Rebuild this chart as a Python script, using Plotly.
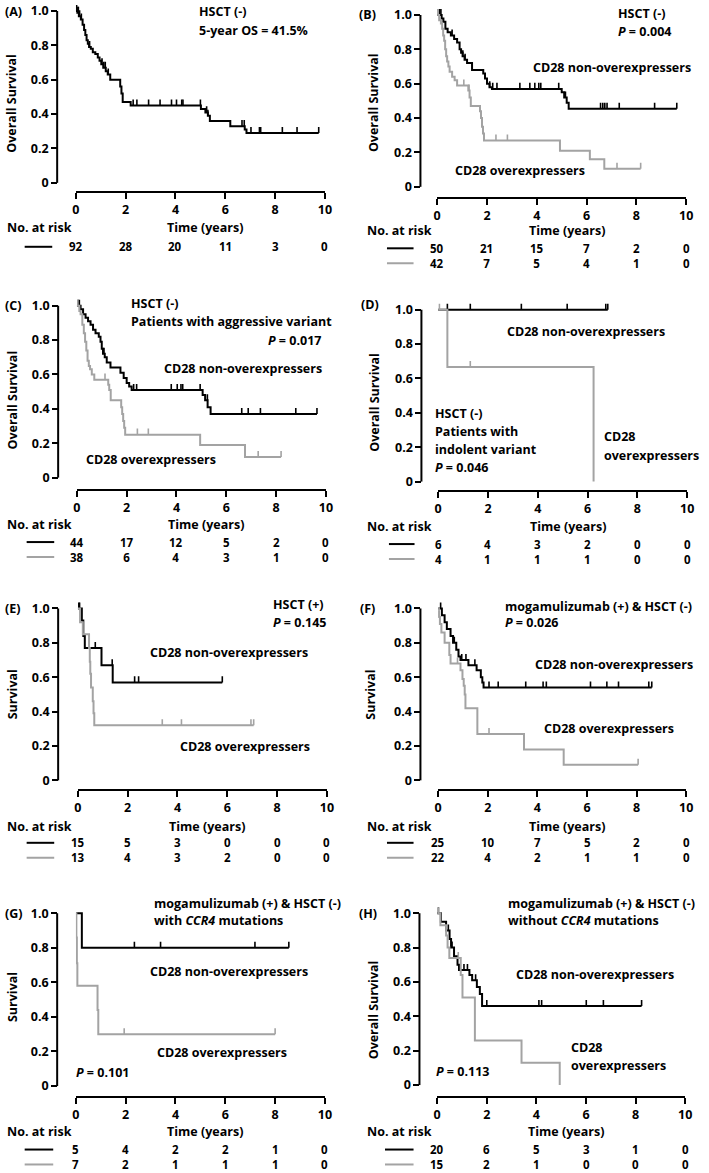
import plotly.graph_objects as go

W, H = 709, 1173

TIME_TICKS = [0, 2, 4, 6, 8, 10]
TIME_LABELS = ["0", "2", "4", "6", "8", "10"]
SURV_TICKS = [0, 0.2, 0.4, 0.6, 0.8, 1.0]
SURV_LABELS = ["0", "0.2", "0.4", "0.6", "0.8", "1.0"]

# ---------------- (A) HSCT (-), all patients ----------------
A_t = [0.06, 0.12, 0.2, 0.27, 0.33, 0.38, 0.43, 0.48, 0.53, 0.6, 0.68, 0.78, 0.88, 0.95, 1.02, 1.1,
       1.2, 1.28, 1.38, 1.78, 1.83, 1.88, 2.2, 5.02, 5.2, 5.3, 5.38, 6.2, 6.78, 6.85]
A_s = [0.99, 0.97, 0.95, 0.92, 0.89, 0.86, 0.83, 0.81, 0.79, 0.78, 0.76, 0.75, 0.73, 0.71, 0.69, 0.67,
       0.65, 0.63, 0.60, 0.56, 0.52, 0.47, 0.45, 0.43, 0.41, 0.39, 0.36, 0.33, 0.31, 0.29]
A_end = 9.75
A_cens = [0.03, 0.08, 0.1, 0.15, 0.22, 0.55, 1.05, 1.12, 1.18, 1.3, 2.3, 2.45, 2.92, 3.38, 3.84, 4.04,
          4.25, 4.3, 5.0, 5.25, 5.3, 6.67, 6.76, 7.03, 7.37, 7.42, 8.29, 8.88, 9.75]
A_risk = [92, 28, 20, 11, 3, 0]

# ---------------- (B) HSCT (-) ----------------
B_non_t = [0.18, 0.25, 0.33, 0.42, 0.55, 0.68, 0.8, 0.9, 0.96, 1.02, 1.1, 1.2, 1.4, 1.85, 1.92, 2.0,
           2.1, 2.2, 5.0, 5.1, 5.2, 5.28]
B_non_s = [0.98, 0.96, 0.92, 0.90, 0.88, 0.86, 0.84, 0.80, 0.78, 0.76, 0.74, 0.72, 0.68, 0.66, 0.63, 0.60,
           0.58, 0.57, 0.55, 0.52, 0.49, 0.455]
B_non_end = 9.62
B_non_cens = [0.05, 0.1, 0.15, 0.6, 1.03, 1.12, 2.11, 2.23, 2.4, 3.32, 3.72, 3.92, 4.08, 4.16, 4.88, 5.15,
              6.56, 6.65, 6.73, 6.82, 7.31, 8.73, 9.62]
B_ovr_t = [0.08, 0.15, 0.2, 0.24, 0.28, 0.32, 0.36, 0.4, 0.45, 0.5, 0.6, 0.7, 0.8, 1.25, 1.3, 1.35,
           1.72, 1.76, 1.8, 1.84, 1.88, 4.93, 6.13, 6.71]
B_ovr_s = [0.97, 0.95, 0.92, 0.88, 0.85, 0.80, 0.76, 0.73, 0.70, 0.67, 0.64, 0.62, 0.59, 0.56, 0.52, 0.47,
           0.44, 0.40, 0.35, 0.31, 0.27, 0.21, 0.16, 0.105]
B_ovr_end = 8.17
B_ovr_cens = [0.04, 1.07, 1.28, 2.36, 2.82, 7.22, 8.17]
B_non_risk = [50, 21, 15, 7, 2, 0]
B_ovr_risk = [42, 7, 5, 4, 1, 0]

# ---------------- (C) aggressive variant ----------------
C_non_t = [0.15, 0.25, 0.35, 0.45, 0.55, 0.65, 0.75, 0.88, 0.95, 1.0, 1.05, 1.12, 1.2, 1.35, 1.75, 1.88,
           2.0, 2.1, 2.2, 5.05, 5.15, 5.25, 5.37]
C_non_s = [0.98, 0.95, 0.93, 0.91, 0.89, 0.86, 0.84, 0.82, 0.79, 0.75, 0.72, 0.70, 0.67, 0.64, 0.61, 0.58,
           0.55, 0.53, 0.51, 0.48, 0.45, 0.41, 0.37]
C_non_end = 9.64
C_non_cens = [0.05, 0.1, 1.09, 2.28, 2.4, 3.79, 4.03, 4.18, 4.25, 4.95, 5.24, 6.62, 6.88, 7.37, 8.79, 9.64]
C_ovr_t = [0.1, 0.15, 0.22, 0.28, 0.33, 0.38, 0.43, 0.48, 0.53, 0.6, 0.7, 1.26, 1.3, 1.36, 1.78, 1.82,
           1.86, 1.9, 1.94, 4.95, 6.75]
C_ovr_s = [0.97, 0.95, 0.89, 0.84, 0.79, 0.74, 0.68, 0.65, 0.63, 0.60, 0.57, 0.54, 0.51, 0.45, 0.41, 0.37,
           0.33, 0.29, 0.25, 0.19, 0.12]
C_ovr_end = 8.2
C_ovr_cens = [0.04, 1.13, 2.43, 2.87, 7.28, 8.2]
C_non_risk = [44, 17, 12, 5, 2, 0]
C_ovr_risk = [38, 6, 4, 3, 1, 0]

# ---------------- (D) indolent variant ----------------
D_non_t = []
D_non_s = []
D_non_end = 6.81
D_non_cens = [0.37, 1.29, 3.34, 5.18, 6.73, 6.81]
D_ovr_t = [0.37, 6.24]
D_ovr_s = [0.667, 0.0]
D_ovr_end = 6.24
D_ovr_cens = [0.05, 1.29]
D_non_risk = [6, 4, 3, 2, 0, 0]
D_ovr_risk = [4, 1, 1, 1, 0, 0]

# ---------------- (E) HSCT (+) ----------------
E_non_t = [0.16, 0.22, 0.28, 0.95, 1.4]
E_non_s = [0.93, 0.84, 0.77, 0.67, 0.57]
E_non_end = 5.8
E_non_cens = [0.04, 0.07, 0.7, 1.38, 2.28, 2.44, 5.8]
E_ovr_t = [0.09, 0.2, 0.45, 0.48, 0.5, 0.53, 0.6, 0.63, 0.66]
E_ovr_s = [0.92, 0.85, 0.77, 0.69, 0.62, 0.54, 0.46, 0.39, 0.32]
E_ovr_end = 7.06
E_ovr_cens = [3.39, 4.16, 6.95, 7.06]
E_non_risk = [15, 5, 3, 0, 0, 0]
E_ovr_risk = [13, 4, 3, 2, 0, 0]

# ---------------- (F) mogamulizumab (+) & HSCT (-) ----------------
F_non_t = [0.15, 0.26, 0.35, 0.5, 0.6, 0.73, 0.82, 0.9, 1.22, 1.55, 1.72, 1.78, 1.83]
F_non_s = [0.96, 0.92, 0.88, 0.84, 0.80, 0.76, 0.72, 0.70, 0.67, 0.64, 0.60, 0.57, 0.54]
F_non_end = 8.61
F_non_cens = [0.1, 0.65, 0.95, 1.12, 1.48, 2.05, 2.42, 3.53, 4.23, 4.36, 6.14, 6.8, 7.27, 8.49, 8.61]
F_ovr_t = [0.03, 0.07, 0.13, 0.26, 0.45, 0.5, 0.9, 0.98, 1.03, 1.07, 1.1, 1.58, 3.46, 5.06]
F_ovr_s = [0.95, 0.91, 0.86, 0.80, 0.73, 0.68, 0.64, 0.59, 0.55, 0.50, 0.42, 0.27, 0.18, 0.09]
F_ovr_end = 8.06
F_ovr_cens = [0.04, 0.78, 2.05, 8.06]
F_non_risk = [25, 10, 7, 5, 2, 0]
F_ovr_risk = [22, 4, 2, 1, 1, 0]

# ---------------- (G) with CCR4 mutations ----------------
G_non_t = [0.24]
G_non_s = [0.8]
G_non_end = 8.55
G_non_cens = [2.35, 3.4, 7.19, 8.55]
G_ovr_t = [0.02, 0.04, 0.06, 0.87, 0.9]
G_ovr_s = [0.86, 0.71, 0.58, 0.44, 0.30]
G_ovr_end = 8.0
G_ovr_cens = [1.94, 8.0]
G_non_risk = [5, 4, 2, 2, 1, 0]
G_ovr_risk = [7, 2, 1, 1, 1, 0]

# ---------------- (H) without CCR4 mutations ----------------
H_non_t = [0.15, 0.36, 0.5, 0.56, 0.68, 0.82, 0.88, 1.3, 1.41, 1.6, 1.72, 1.81]
H_non_s = [0.95, 0.90, 0.85, 0.80, 0.75, 0.70, 0.67, 0.64, 0.61, 0.57, 0.53, 0.46]
H_non_end = 8.24
H_non_cens = [0.05, 0.45, 0.6, 1.08, 1.22, 1.55, 2.0, 4.1, 4.21, 6.01, 6.7, 8.24]
H_ovr_t = [0.13, 0.36, 0.42, 0.49, 0.95, 1.02, 1.52, 3.4, 4.94]
H_ovr_s = [0.93, 0.87, 0.80, 0.74, 0.64, 0.51, 0.26, 0.13, 0.0]
H_ovr_end = 4.94
H_ovr_cens = [0.05, 0.85]
H_non_risk = [20, 6, 5, 3, 1, 0]
H_ovr_risk = [15, 2, 1, 0, 0, 0]

# ---------------- styling / layout (pixel geometry) ----------------
BLACK = "#000000"
GRAY = "#a3a3a3"
FONT = "Open Sans"
FS = 12.5
RISK_FS = 11.5
LINE_GAP = RISK_FS * 1.3  # plotly multi-line spacing
YMIN, YMAX = -0.04, 1.06
TICK_H = 0.035

PANELS = [
    dict(label="(A)", ytitle="Overall Survival",
         curves=[(A_t, A_s, A_end, A_cens, BLACK)], risk=[(A_risk, BLACK)],
         X0=73, X10=326, XAX=192, Y0=183, Y1=11, YAX=54, TIME=228, RISKMID=247, LEG=(21, 49),
         LAB=(0, 12), YT=(8, 103),
         texts=[("HSCT (-)", 197, 12, "left"), ("5-year OS = 41.5%", 197, 31, "left")]),
    dict(label="(B)", ytitle="Overall Survival",
         curves=[(B_non_t, B_non_s, B_non_end, B_non_cens, BLACK),
                 (B_ovr_t, B_ovr_s, B_ovr_end, B_ovr_cens, GRAY)],
         risk=[(B_non_risk, BLACK), (B_ovr_risk, GRAY)],
         X0=440, X10=693, XAX=198, Y0=187, Y1=15, YAX=423, TIME=231, RISKMID=256, LEG=(389, 416),
         LAB=(360, 15), YT=(376, 103),
         texts=[("HSCT (-)", 623, 14, "left"), ("<i>P</i> = 0.004", 623, 32, "left"),
                ("CD28 non-overexpressers", 536, 68, "left"), ("CD28 overexpressers", 457, 171, "left")]),
    dict(label="(C)", ytitle="Overall Survival",
         curves=[(C_non_t, C_non_s, C_non_end, C_non_cens, BLACK),
                 (C_ovr_t, C_ovr_s, C_ovr_end, C_ovr_cens, GRAY)],
         risk=[(C_non_risk, BLACK), (C_ovr_risk, GRAY)],
         X0=74, X10=327, XAX=490, Y0=478, Y1=306, YAX=55, TIME=525, RISKMID=550, LEG=(23, 51),
         LAB=(0, 306), YT=(9, 400),
         texts=[("HSCT (-)", 128, 304, "left"), ("Patients with aggressive variant", 128, 322, "left"),
                ("<i>P</i> = 0.017", 267, 341, "left"),
                ("CD28 non-overexpressers", 162, 369, "left"), ("CD28 overexpressers", 82, 460, "left")]),
    dict(label="(D)", ytitle="Overall Survival",
         curves=[(D_non_t, D_non_s, D_non_end, D_non_cens, BLACK),
                 (D_ovr_t, D_ovr_s, D_ovr_end, D_ovr_cens, GRAY)],
         risk=[(D_non_risk, BLACK), (D_ovr_risk, GRAY)],
         X0=441, X10=694, XAX=491, Y0=482, Y1=310, YAX=424, TIME=527, RISKMID=552, LEG=(391, 417),
         LAB=(362, 305), YT=(377, 403),
         texts=[("CD28 non-overexpressers", 510, 332, "left"), ("HSCT (-)", 437, 414, "left"),
                ("Patients with", 437, 432, "left"), ("indolent variant", 437, 450, "left"),
                ("<i>P</i> = 0.046", 437, 468, "left"), ("CD28", 608, 437, "left"),
                ("overexpressers", 608, 456, "left")]),
    dict(label="(E)", ytitle="Survival",
         curves=[(E_non_t, E_non_s, E_non_end, E_non_cens, BLACK),
                 (E_ovr_t, E_ovr_s, E_ovr_end, E_ovr_cens, GRAY)],
         risk=[(E_non_risk, BLACK), (E_ovr_risk, GRAY)],
         X0=75, X10=328, XAX=791, Y0=781, Y1=609, YAX=55, TIME=827, RISKMID=851, LEG=(23, 51),
         LAB=(0, 609), YT=(9, 695),
         texts=[("HSCT (+)", 272, 605, "left"), ("<i>P</i> = 0.145", 272, 623, "left"),
                ("CD28 non-overexpressers", 147, 653, "left"), ("CD28 overexpressers", 178, 747, "left")]),
    dict(label="(F)", ytitle="Survival",
         curves=[(F_non_t, F_non_s, F_non_end, F_non_cens, BLACK),
                 (F_ovr_t, F_ovr_s, F_ovr_end, F_ovr_cens, GRAY)],
         risk=[(F_non_risk, BLACK), (F_ovr_risk, GRAY)],
         X0=441, X10=693, XAX=791, Y0=781, Y1=609, YAX=423, TIME=827, RISKMID=851, LEG=(389, 416),
         LAB=(361, 609), YT=(372, 695),
         texts=[("mogamulizumab (+) & HSCT (-)", 508, 607, "left"), ("<i>P</i> = 0.026", 508, 623, "left"),
                ("CD28 non-overexpressers", 538, 665, "left"), ("CD28 overexpressers", 548, 729, "left")]),
    dict(label="(G)", ytitle="Survival",
         curves=[(G_non_t, G_non_s, G_non_end, G_non_cens, BLACK),
                 (G_ovr_t, G_ovr_s, G_ovr_end, G_ovr_cens, GRAY)],
         risk=[(G_non_risk, BLACK), (G_ovr_risk, GRAY)],
         X0=73, X10=326, XAX=1098, Y0=1087, Y1=914, YAX=54, TIME=1132, RISKMID=1158, LEG=(21, 50),
         LAB=(0, 914), YT=(8, 998),
         texts=[("mogamulizumab (+) & HSCT (-)", 151, 904, "left"),
                ("with <i>CCR4</i> mutations", 151, 921, "left"),
                ("CD28 non-overexpressers", 147, 972, "left"), ("CD28 overexpressers", 154, 1053, "left"),
                ("<i>P</i> = 0.101", 72, 1073, "left")]),
    dict(label="(H)", ytitle="Overall Survival",
         curves=[(H_non_t, H_non_s, H_non_end, H_non_cens, BLACK),
                 (H_ovr_t, H_ovr_s, H_ovr_end, H_ovr_cens, GRAY)],
         risk=[(H_non_risk, BLACK), (H_ovr_risk, GRAY)],
         X0=440, X10=692, XAX=1098, Y0=1086, Y1=914, YAX=422, TIME=1132, RISKMID=1158, LEG=(387, 416),
         LAB=(360, 914), YT=(375, 1011),
         texts=[("mogamulizumab (+) & HSCT (-)", 511, 904, "left"),
                ("without <i>CCR4</i> mutations", 511, 921, "left"),
                ("CD28 non-overexpressers", 519, 975, "left"), ("CD28", 575, 1048, "left"),
                ("overexpressers", 575, 1066, "left"), ("<i>P</i> = 0.113", 438, 1072, "left")]),
]


def px(x):
    return x / W


def py(y):
    return 1 - y / H


def surv_at(times, survs, c):
    s = 1.0
    for t, v in zip(times, survs):
        if t <= c:
            s = v
    return s


fig = go.Figure()
shapes = []
annotations = []
layout_axes = {}
TXTFONT = dict(family=FONT, size=FS, color=BLACK, weight="bold")
RISKFONT = dict(family=FONT, size=RISK_FS, color=BLACK, weight="bold")


def ann(text, x, y, anchor="left", angle=0, xref="paper", xval=None, font=None):
    annotations.append(dict(text=text, x=px(x) if xval is None else xval, y=py(y), xref=xref, yref="paper",
                            xanchor=anchor, yanchor="middle", showarrow=False, textangle=angle,
                            borderpad=0, font=font or TXTFONT))


for n, P in enumerate(PANELS, start=1):
    xa = "x" if n == 1 else f"x{n}"
    ya = "y" if n == 1 else f"y{n}"
    xkey = "xaxis" if n == 1 else f"xaxis{n}"
    ykey = "yaxis" if n == 1 else f"yaxis{n}"
    ppu = P["Y0"] - P["Y1"]
    bottom = P["Y0"] - YMIN * ppu
    top = max(P["Y1"] - (YMAX - 1) * ppu, 0.5)
    ymax = 1 + (P["Y1"] - top) / ppu

    layout_axes[xkey] = dict(
        domain=[px(P["X0"]), px(P["X10"])], range=[0, 10], anchor="free", position=py(P["XAX"]),
        showline=True, linewidth=2, linecolor=BLACK, ticks="outside", ticklen=6, tickwidth=2,
        tickcolor=BLACK, tickvals=TIME_TICKS, ticktext=TIME_LABELS, showgrid=False, zeroline=False,
        tickfont=TXTFONT, fixedrange=True)
    layout_axes[ykey] = dict(
        domain=[py(bottom), py(top)], range=[YMIN, ymax], anchor="free", position=px(P["YAX"]),
        showline=False, ticks="outside", ticklen=6, tickwidth=2, tickcolor=BLACK,
        tickvals=SURV_TICKS, ticktext=SURV_LABELS, showgrid=False, zeroline=False,
        tickfont=TXTFONT, fixedrange=True)

    # y axis line from 0 to 1.0
    shapes.append(dict(type="line", xref="paper", yref="paper", x0=px(P["YAX"]), x1=px(P["YAX"]),
                       y0=py(P["Y0"]), y1=py(P["Y1"]), line=dict(color=BLACK, width=2)))

    # curves: black first, gray on top
    for (t, s, end, cens, col) in P["curves"]:
        xs = [0] + list(t) + [end]
        ys = [1.0] + list(s) + [s[-1] if s else 1.0]
        fig.add_trace(go.Scatter(x=xs, y=ys, mode="lines", line=dict(color=col, width=2, shape="hv"),
                                 xaxis=xa, yaxis=ya, showlegend=False, hoverinfo="skip"))
        cx, cy = [], []
        for c in cens:
            v = surv_at(t, s, c)
            cx += [c, c, None]
            cy += [v, v + TICK_H, None]
        fig.add_trace(go.Scatter(x=cx, y=cy, mode="lines", line=dict(color=col, width=1.6),
                                 xaxis=xa, yaxis=ya, showlegend=False, hoverinfo="skip"))

    # number at risk table: one stacked label per time tick, placed on the panel's time axis
    nrows = len(P["risk"])
    for i, tv in enumerate(TIME_TICKS):
        txt = "<br>".join(str(vals[i]) for vals, _ in P["risk"])
        ann(txt, 0, P["RISKMID"], "center", xref=xa, xval=tv, font=RISKFONT)
    for k, (vals, col) in enumerate(P["risk"]):
        row = P["RISKMID"] + (k - (nrows - 1) / 2) * LINE_GAP
        shapes.append(dict(type="line", xref="paper", yref="paper", x0=px(P["LEG"][0]), x1=px(P["LEG"][1]),
                           y0=py(row), y1=py(row), line=dict(color=col, width=2)))

    ann(P["label"], P["LAB"][0], P["LAB"][1])
    ann(P["ytitle"], P["YT"][0], P["YT"][1], "center", -90)
    ann("Time (years)", (P["X0"] + P["X10"]) / 2 + 5, P["TIME"], "center")
    ann("No. at risk", 2 if P["X0"] < 200 else 368, P["TIME"])
    for (txt, x, y, anc) in P["texts"]:
        ann(txt, x, y, anc)

fig.update_layout(
    width=W, height=H, margin=dict(l=0, r=0, t=0, b=0),
    paper_bgcolor="white", plot_bgcolor="rgba(0,0,0,0)",
    font=TXTFONT, shapes=shapes, annotations=annotations, showlegend=False,
    **layout_axes)

fig.write_html("out.html", config={"displayModeBar": False},
               post_script="document.body.style.margin='0';document.body.style.padding='0';")
